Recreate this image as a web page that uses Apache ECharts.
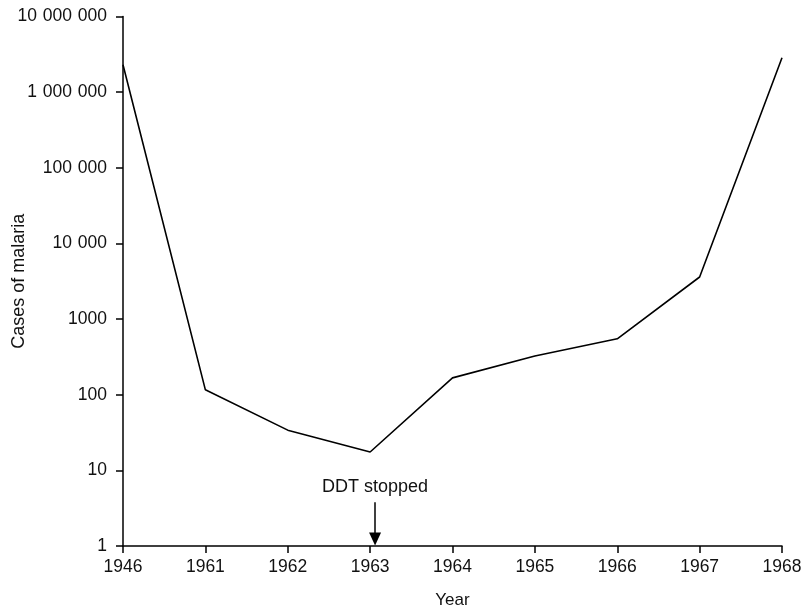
<!DOCTYPE html>
<html><head><meta charset="utf-8">
<script src="https://cdn.jsdelivr.net/npm/echarts@6/dist/echarts.min.js"></script>
<style>html,body{margin:0;padding:0;background:#fff}#c{width:804px;height:607px}</style>
</head><body><div id="c"></div>
<script>
const years = ['1946','1961','1962','1963','1964','1965','1966','1967','1968'];
const cases = [2300000, 116, 34, 17.5, 167, 325, 548, 3600, 2850000];
const yTickLabels = ['1','10','100','1000','10\u2004000','100\u2004000','1\u2004000\u2004000','10\u2004000\u2004000'];
const annotationText = 'DDT stopped';
const annotationX = 3.06;   // just right of 1963 (category position)
const arrowFrom = 3.8, arrowTo = 1.24;

const chart = echarts.init(document.getElementById('c'), null, {renderer:'canvas'});
const font = '"Liberation Sans", Arial, sans-serif';
chart.setOption({
  animation:false,
  grid:{left:123,right:22,top:16.5,bottom:61,containLabel:false,outerBoundsMode:'none'},
  xAxis:[{
    type:'category', data:years, boundaryGap:false,
    name:'Year', nameLocation:'middle', nameGap:46, nameMoveOverlap:false,
    nameTextStyle:{color:'#111',fontSize:17,fontFamily:font},
    axisLine:{lineStyle:{color:'#000',width:1.5}},
    axisTick:{show:true,length:7,alignWithLabel:true,lineStyle:{color:'#000',width:1.5}},
    axisLabel:{color:'#111',fontSize:17.5,fontFamily:font,margin:12,interval:0},
    splitLine:{show:false}
  },{
    type:'value', min:0, max:years.length-1, show:false
  }],
  yAxis:{
    type:'log', logBase:10, min:1, max:10000000, splitNumber:7,
    name:'Cases of malaria', nameLocation:'middle', nameGap:95, nameMoveOverlap:false,
    nameTextStyle:{color:'#111',fontSize:18,fontFamily:font},
    axisLine:{show:true,lineStyle:{color:'#000',width:1.5}},
    axisTick:{show:true,length:7,lineStyle:{color:'#000',width:1.5}},
    axisLabel:{color:'#111',fontSize:17.5,fontFamily:font,margin:16,
      formatter:v=>yTickLabels[Math.round(Math.log10(v))]},
    splitLine:{show:false}
  },
  series:[{
    type:'line', data:cases, symbol:'none',
    lineStyle:{color:'#000',width:1.6}
  },{
    type:'line', xAxisIndex:1, data:[], symbol:'none',
    markLine:{
      silent:true, symbol:['none','triangle'], symbolSize:[12,13],
      lineStyle:{color:'#000',width:1.5,type:'solid'},
      label:{show:true,position:'start',formatter:annotationText,color:'#111',fontSize:18,fontFamily:font,distance:6},
      data:[[{coord:[annotationX,arrowFrom]},{coord:[annotationX,arrowTo]}]]
    }
  }]
});
</script></body></html>
